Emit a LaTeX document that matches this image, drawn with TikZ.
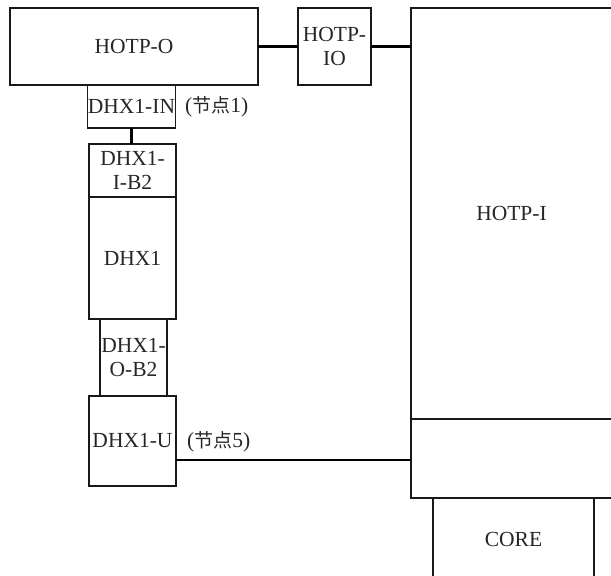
\documentclass[tikz,border=0pt]{standalone}
\usepackage{fontspec}
\setmainfont{Liberation Serif}
\newfontfamily\cjk{Noto Sans CJK SC}
\begin{document}
\begin{tikzpicture}[x=1pt,y=-1pt,
  box/.style={draw=black!90, line width=1.6pt, inner sep=0pt, outer sep=0pt, align=center, text=black!85, font=\fontsize{21.5}{23.5}\selectfont},
  conn/.style={draw=black, line width=2.6pt},
  lbl/.style={font=\fontsize{21.5}{23.5}\selectfont, text=black!85, inner sep=0pt}]
\useasboundingbox (0,0) rectangle (611,576);
\node[box, minimum width=248pt, minimum height=77pt] (hotpo) at (134,46.5) {HOTP-O};
\node[box, minimum width=73pt, minimum height=77pt] (hotpio) at (334.5,46.5) {HOTP-\\IO};
\node[box, minimum width=201pt, minimum height=411pt] (hotpi) at (511.5,213.5) {HOTP-I};
\node[box, minimum width=201pt, minimum height=79pt] (hotpil) at (511.5,458.5) {};
\node[box, minimum width=161pt, minimum height=82pt] (core) at (513.5,539) {CORE};
\node[box, minimum width=88pt, minimum height=43pt] (dhxin) at (131.5,106.5) {DHX1-IN};
\node[box, minimum width=87pt, minimum height=53pt] (dhxib) at (132.5,170.5) {DHX1-\\I-B2};
\node[box, minimum width=87pt, minimum height=122pt] (dhx) at (132.5,258) {DHX1};
\node[box, minimum width=67pt, minimum height=77pt] (dhxob) at (133.5,357.5) {DHX1-\\O-B2};
\node[box, minimum width=87pt, minimum height=90pt] (dhxu) at (132.5,441) {DHX1-U};
\draw[conn] (hotpo.east) -- (hotpio.west);
\draw[conn] (hotpio.east) -- (hotpio.east -| hotpi.west);
\draw[conn] (dhxin.south) -- (dhxin.south |- dhxib.north);
\draw[conn] ([yshift=-19pt]dhxu.east) -- ([yshift=-19pt]dhxu.east -| hotpil.west);
\node[lbl, anchor=west] (n1) at (185,107) {({\cjk\fontsize{19}{23}\selectfont 节点}1)};
\node[lbl, anchor=west] (n5) at (187,442) {({\cjk\fontsize{19}{23}\selectfont 节点}5)};
\end{tikzpicture}
\end{document}
